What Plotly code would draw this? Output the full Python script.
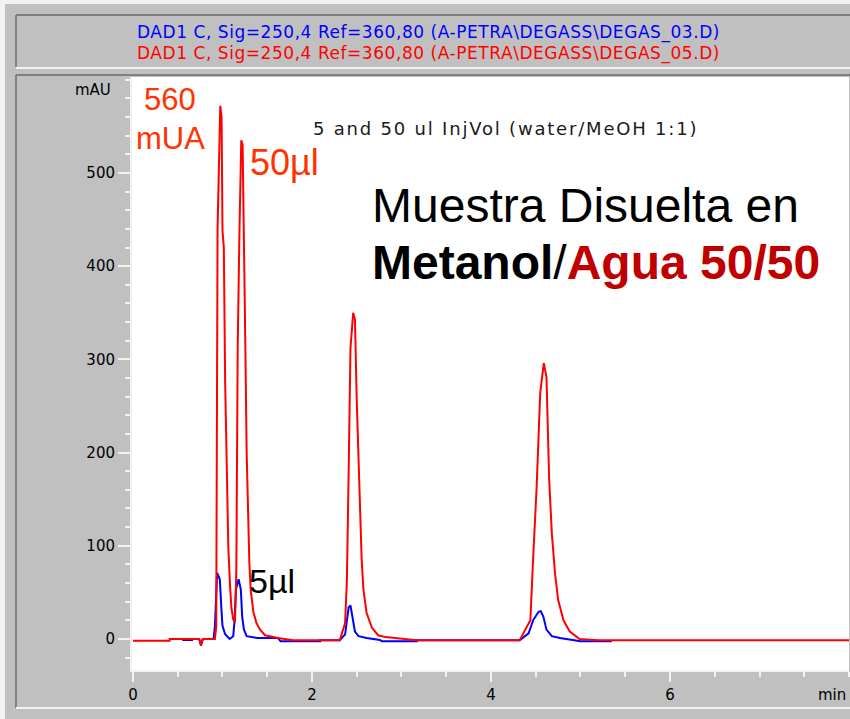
import plotly.graph_objects as go

# ---------------- data ----------------
red_time = [0.00, 0.41, 0.41, 0.74, 0.76, 0.78, 0.80, 0.915, 0.93, 0.945, 0.975, 0.99,
            1.00, 1.015, 1.03, 1.048, 1.065, 1.085, 1.10, 1.12, 1.14, 1.155,
            1.17, 1.19, 1.21, 1.225, 1.24, 1.255, 1.27, 1.285, 1.30, 1.315,
            1.345, 1.38, 1.42, 1.475, 1.57, 1.62, 1.79,
            2.31, 2.37, 2.39, 2.41, 2.43, 2.46, 2.48, 2.50, 2.53, 2.555,
            2.575, 2.61, 2.67, 2.74, 2.82, 3.17,
            4.32, 4.44, 4.47, 4.51, 4.55, 4.59, 4.62, 4.65, 4.68, 4.715,
            4.75, 4.81, 4.88, 4.99, 5.2, 8.0]
red_mau = [-2, -2, 0, 0, -7, 0, 0, 0, 13, 440, 572, 560,
           438, 420, 274, 171, 99, 56, 33, 21, 18, 76,
           313, 440, 535, 530, 444, 317, 200, 124, 82, 53,
           29, 17, 10, 4, 2, 1, -1.5,
           -1.5, 17, 63, 181, 312, 350, 343, 256, 151, 85,
           53, 28, 12, 4, 2, -1.5,
           -1.5, 20, 85, 163, 264, 296, 281, 171, 113, 71,
           42, 20, 8, 0, -1.5, -1.5]

blue_time = [0.55, 0.66, 0.66, 0.74, 0.76, 0.78, 0.90, 0.915, 0.94, 0.97,
             0.99, 1.00, 1.03, 1.08, 1.12, 1.135, 1.15, 1.18, 1.205, 1.22,
             1.24, 1.27, 1.39, 1.62, 1.65, 2.09, 2.09, 2.31, 2.37, 2.41,
             2.43, 2.455, 2.48, 2.52, 2.61, 2.76, 2.78, 3.17, 3.17, 4.32,
             4.42, 4.47, 4.53, 4.555, 4.585, 4.62, 4.68, 4.77, 4.92, 5.0, 5.35]
blue_mau = [-1, -1, 0, 0, -7, 0, 0, 13, 71, 64,
            29, 14, 5, 0, 3, 20, 53, 64, 53, 24,
            10, 3, 1, 1, -2.5, -2.5, -1.5, -1.5, 5, 34,
            36, 20, 8, 3, 1, -1, -2.5, -2.5, -1.5, -1.5,
            6, 20, 29, 30, 24, 10, 3, 1, -1, -2.5, -2.5]

y_ticks = [0, 100, 200, 300, 400, 500]
x_ticks = [0, 2, 4, 6]

header_blue = "DAD1 C, Sig=250,4 Ref=360,80 (A-PETRA\\DEGASS\\DEGAS_03.D)"
header_red = "DAD1 C, Sig=250,4 Ref=360,80 (A-PETRA\\DEGASS\\DEGAS_05.D)"
subtitle = "5 and 50 ul InjVol (water/MeOH 1:1)"

# ---------------- layout geometry (pixels) ----------------
FW, FH = 850, 719
L, R, T, B = 132, 849, 77, 670
W, H = R - L, B - T


def px(x):
    return (x - L) / W


def py(y):
    return (B - y) / H


GRAY = "#c0c0c0"
DARK = "#808080"
LIGHT = "#f2f2f2"
ORANGE = "#ff3300"

fig = go.Figure()
fig.add_trace(go.Scatter(x=blue_time, y=blue_mau, mode="lines",
                         line=dict(color="#0000ff", width=2), hoverinfo="skip"))
fig.add_trace(go.Scatter(x=red_time, y=red_mau, mode="lines",
                         line=dict(color="#ff0000", width=2), hoverinfo="skip"))

shapes = []


def rect(x0, y0, x1, y1, color):
    shapes.append(dict(type="rect", xref="paper", yref="paper", layer="below",
                       x0=px(x0), x1=px(x1), y0=py(y1), y1=py(y0),
                       fillcolor=color, line=dict(width=0)))


def hline(x0, x1, y, color, w=2):
    shapes.append(dict(type="line", xref="paper", yref="paper",
                       x0=px(x0), x1=px(x1), y0=py(y), y1=py(y),
                       line=dict(color=color, width=w)))


def vline(x, y0, y1, color, w=2):
    shapes.append(dict(type="line", xref="paper", yref="paper",
                       x0=px(x), x1=px(x), y0=py(y0), y1=py(y1),
                       line=dict(color=color, width=w)))


# outer light strips
rect(0, 0, FW, 4, LIGHT)
rect(0, 0, 5, FH, LIGHT)
# header box
hline(16, FW, 15, DARK)
vline(16, 15, 67, DARK)
hline(16, FW, 68, LIGHT)
# plot frame
hline(16, FW, 75, DARK)
vline(16, 75, 708, DARK)
hline(16, FW, 708, LIGHT)

ann = []


def text(x, y, s, size, color="#000000", xanchor="center", family="Liberation Sans, Arial"):
    ann.append(dict(x=px(x), y=py(y), xref="paper", yref="paper", text=s,
                    showarrow=False, xanchor=xanchor, yanchor="middle",
                    font=dict(size=size, color=color, family=family)))


def spaced(s, sp):
    return "<span style='letter-spacing:%.2fpx'>%s</span>" % (sp, s)


text(428, 32, spaced(header_blue, 0.55), 17, "#0000ff", family="DejaVu Sans")
text(428, 53, spaced(header_red, 0.55), 17, "#ff0000", family="DejaVu Sans")
text(113, 90, "mAU", 15, "#000000", xanchor="right", family="DejaVu Sans")
text(848, 695, "min", 15, "#000000", xanchor="right", family="DejaVu Sans")
text(505, 128, spaced(subtitle, 1.8), 18, "#1a1a1a", family="DejaVu Sans")
text(170, 99, "560", 31, ORANGE)
text(170, 138, "mUA", 31, ORANGE)
text(248, 162, "50µl", 36, ORANGE, xanchor="left")
text(247, 581, "5µl", 34, "#000000", xanchor="left")
text(370, 205, "Muestra Disuelta en", 48, "#000000", xanchor="left")
text(370, 262, "<b>Metanol</b>/<b><span style='color:#c00000'>Agua 50/50</span></b>",
     48, "#000000", xanchor="left")

tick_font = dict(family="DejaVu Sans", size=15, color="#000000")

fig.update_layout(
    width=FW, height=FH,
    margin=dict(l=L, r=FW - R, t=T, b=FH - B, pad=0),
    paper_bgcolor=GRAY, plot_bgcolor="#ffffff",
    showlegend=False,
    shapes=shapes, annotations=ann,
    xaxis=dict(range=[-0.011, 8.0], tickvals=x_ticks, ticktext=[str(v) for v in x_ticks],
               ticks="outside", ticklen=10, tickwidth=2, tickcolor=LIGHT,
               showline=True, linecolor=LIGHT, linewidth=2,
               minor=dict(dtick=0.5, ticks="outside", ticklen=5, tickwidth=2, tickcolor=LIGHT),
               showgrid=False, zeroline=False, tickfont=tick_font, fixedrange=True),
    yaxis=dict(range=[-33.3, 603], tickvals=y_ticks, ticktext=[str(v) for v in y_ticks],
               ticks="outside", ticklen=12, tickwidth=2, tickcolor=LIGHT,
               showline=True, linecolor=LIGHT, linewidth=2,
               minor=dict(dtick=20, ticks="outside", ticklen=5, tickwidth=2, tickcolor=LIGHT),
               showgrid=False, zeroline=False, tickfont=tick_font, fixedrange=True),
)

fig.write_html("out.html", config=dict(displayModeBar=False))
